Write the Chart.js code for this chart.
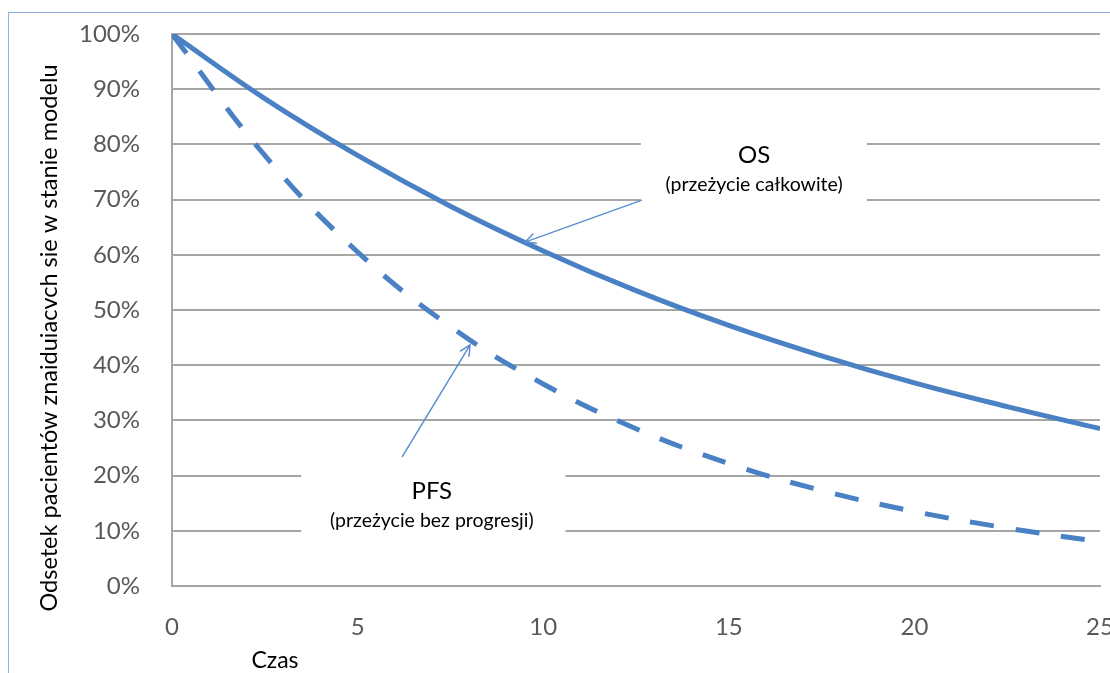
<!DOCTYPE html>
<html>
<head>
<meta charset="utf-8">
<script src="https://cdn.jsdelivr.net/npm/chart.js@4"></script>
<style>
body{margin:0;background:#fff;overflow:hidden}
#ramka{position:absolute;left:8px;top:12px;width:1200px;height:700px;border-top:1px solid #8db3e2;border-left:1px solid #8db3e2}
#wrap{position:absolute;left:0;top:0;width:1110px;height:673px;overflow:hidden}
</style>
</head>
<body>
<div id="ramka"></div>
<div id="wrap"><canvas id="myChart" width="1130" height="673"></canvas></div>
<script>
/* dane */
var czas = [0, 2.5, 5, 7.5, 10, 12.5, 15, 17.5, 20, 22.5, 25];
var os = [100, 88.3, 78, 68.8, 60.7, 53.5, 47.2, 41.7, 36.8, 32.5, 28.5];
var pfs = [100, 78, 60.5, 47, 36.6, 28.5, 22.2, 17.3, 13.5, 10.5, 8];
var xTicks = [0, 5, 10, 15, 20, 25];
var yTicks = [0, 10, 20, 30, 40, 50, 60, 70, 80, 90, 100];

var kolor = '#4a80c4';
var siatka = '#a6a6a6';

function punkty(wartosci) {
    return czas.map(function (t, i) { return {x: t, y: wartosci[i]}; });
}

/* opisy z strzalkami, w jednostkach osi */
var opisy = [
    {tytul: 'OS', podtytul: '(przeżycie całkowite)', x0: 12.63, x1: 18.72, y0: 83.5, y1: 67.2,
     tx: 15.68, ty1: 78.1, ty2: 72.7, od: [12.66, 69.9], do: [9.51, 62.3]},
    {tytul: 'PFS', podtytul: '(przeżycie bez progresji)', x0: 3.48, x1: 10.6, y0: 21.9, y1: 7.4,
     tx: 7.0, ty1: 17.2, ty2: 11.8, od: [6.2, 23.4], do: [8.03, 43.7]}
];

var adnotacje = {
    id: 'adnotacje',
    afterDatasetsDraw: function (chart) {
        var ctx = chart.ctx, sx = chart.scales.x, sy = chart.scales.y;
        ctx.save();
        opisy.forEach(function (o) {
            var l = sx.getPixelForValue(o.x0), r = sx.getPixelForValue(o.x1);
            var t = sy.getPixelForValue(o.y0), b = sy.getPixelForValue(o.y1);
            ctx.fillStyle = '#fff';
            ctx.fillRect(l, t, r - l, b - t);
            var cx = sx.getPixelForValue(o.tx);
            ctx.fillStyle = '#000';
            ctx.textAlign = 'center';
            ctx.textBaseline = 'middle';
            ctx.font = '24px Lato';
            ctx.fillText(o.tytul, cx, sy.getPixelForValue(o.ty1));
            ctx.font = '19.5px Lato';
            ctx.fillText(o.podtytul, cx, sy.getPixelForValue(o.ty2));
            // strzalka
            var x1 = sx.getPixelForValue(o.od[0]), y1 = sy.getPixelForValue(o.od[1]);
            var x2 = sx.getPixelForValue(o.do[0]), y2 = sy.getPixelForValue(o.do[1]);
            var kat = Math.atan2(y2 - y1, x2 - x1);
            ctx.strokeStyle = '#5b8fd0';
            ctx.lineWidth = 1.5;
            ctx.beginPath();
            ctx.moveTo(x1, y1);
            ctx.lineTo(x2, y2);
            ctx.moveTo(x2 - 12 * Math.cos(kat - 0.45), y2 - 12 * Math.sin(kat - 0.45));
            ctx.lineTo(x2, y2);
            ctx.lineTo(x2 - 12 * Math.cos(kat + 0.45), y2 - 12 * Math.sin(kat + 0.45));
            ctx.stroke();
        });
        // tytuly osi
        ctx.fillStyle = '#000';
        ctx.textAlign = 'center';
        ctx.textBaseline = 'middle';
        ctx.font = '23px Lato';
        ctx.fillText('Czas', 275, 661);
        ctx.translate(49, 338);
        ctx.rotate(-Math.PI / 2);
        ctx.font = '23.5px Lato';
        ctx.fillText('Odsetek pacientów znaiduiacvch sie w stanie modelu', 0, 0);
        ctx.restore();
    }
};

var ctx = document.getElementById('myChart').getContext('2d');
var chart = new Chart(ctx, {
    type: 'line',
    data: {
        datasets: [{
            label: 'OS',
            data: punkty(os),
            borderColor: kolor,
            borderWidth: 5,
            pointRadius: 0,
            tension: 0.4
        }, {
            label: 'PFS',
            data: punkty(pfs),
            borderColor: kolor,
            borderWidth: 5,
            borderDash: [24, 22],
            pointRadius: 0,
            tension: 0.4
        }]
    },
    options: {
        responsive: false,
        animation: false,
        layout: {padding: {left: 0, top: 34, right: 30, bottom: 0}},
        plugins: {legend: {display: false}, tooltip: {enabled: false}},
        scales: {
            x: {
                type: 'linear',
                min: 0,
                max: 25,
                afterFit: function (s) { s.height = 87; s.paddingLeft = 0; s.paddingRight = 0; },
                afterBuildTicks: function (s) { s.ticks = xTicks.map(function (v) { return {value: v}; }); },
                grid: {display: false, drawTicks: false},
                border: {display: true, color: siatka, width: 2},
                ticks: {padding: 27, color: '#595959', font: {family: 'Lato', size: 24}, maxRotation: 0}
            },
            y: {
                min: 0,
                max: 100,
                afterFit: function (s) { s.width = 172; s.paddingTop = 0; s.paddingBottom = 0; },
                afterBuildTicks: function (s) { s.ticks = yTicks.map(function (v) { return {value: v}; }); },
                grid: {color: siatka, lineWidth: 2, drawTicks: false},
                border: {display: true, color: siatka, width: 2},
                ticks: {
                    padding: 32,
                    color: '#595959',
                    font: {family: 'Lato', size: 24},
                    callback: function (v) { return v + '%'; }
                }
            }
        }
    },
    plugins: [adnotacje]
});
</script>
</body>
</html>
